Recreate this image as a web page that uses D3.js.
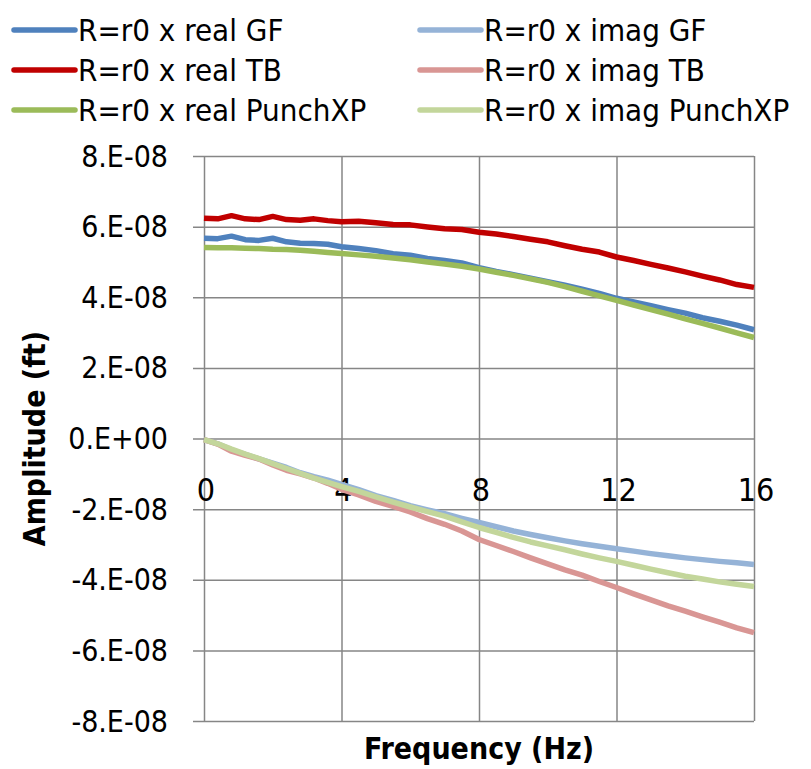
<!DOCTYPE html>
<html>
<head>
<meta charset="utf-8">
<script src="https://cdn.jsdelivr.net/npm/d3@7"></script>
<style>
  body { margin: 0; background: #fff; }
  svg text { font-family: "DejaVu Sans Condensed", "Liberation Sans Narrow", sans-serif; fill: #000; }
</style>
</head>
<body>
<div id="chart"></div>
<script>
// ------------------------------------------------------
// DATA (amplitudes in units of 1e-8 ft)

const freq = [0, 0.4, 0.8, 1.2, 1.6, 2, 2.4, 2.8, 3.2, 3.6, 4, 4.5, 5, 5.5, 6, 6.5, 7, 7.5, 8, 8.5,
  9, 9.5, 10, 10.5, 11, 11.5, 12, 12.5, 13, 13.5, 14, 14.5, 15, 15.5, 16]

const realGF = [5.67, 5.66, 5.73, 5.63, 5.61, 5.67, 5.57, 5.53, 5.52, 5.50, 5.43, 5.38, 5.32, 5.23, 5.19, 5.10, 5.04, 4.97, 4.84, 4.73,
  4.64, 4.54, 4.44, 4.34, 4.23, 4.11, 3.97, 3.87, 3.76, 3.65, 3.55, 3.42, 3.32, 3.21, 3.08]
const imagGF = [-0.03, -0.15, -0.32, -0.45, -0.58, -0.70, -0.82, -0.97, -1.08, -1.18, -1.30, -1.45, -1.62, -1.75, -1.90, -2.02, -2.13, -2.26, -2.38, -2.50,
  -2.62, -2.72, -2.81, -2.90, -2.98, -3.05, -3.12, -3.19, -3.26, -3.32, -3.38, -3.43, -3.48, -3.52, -3.57]
const realTB = [6.24, 6.22, 6.31, 6.22, 6.20, 6.29, 6.20, 6.18, 6.22, 6.17, 6.14, 6.15, 6.11, 6.06, 6.05, 5.99, 5.94, 5.92, 5.84, 5.79,
  5.72, 5.64, 5.57, 5.46, 5.36, 5.28, 5.14, 5.04, 4.93, 4.83, 4.72, 4.60, 4.49, 4.36, 4.28]
const imagTB = [-0.03, -0.16, -0.36, -0.48, -0.58, -0.75, -0.90, -1.00, -1.12, -1.27, -1.44, -1.60, -1.78, -1.92, -2.08, -2.27, -2.43, -2.62, -2.86, -3.03,
  -3.20, -3.38, -3.55, -3.72, -3.87, -4.05, -4.22, -4.40, -4.57, -4.74, -4.89, -5.05, -5.20, -5.36, -5.50]
const realPXP = [5.41, 5.40, 5.40, 5.39, 5.38, 5.36, 5.35, 5.33, 5.30, 5.27, 5.24, 5.20, 5.16, 5.11, 5.06, 5.00, 4.94, 4.88, 4.80, 4.71,
  4.62, 4.52, 4.42, 4.30, 4.17, 4.04, 3.91, 3.78, 3.65, 3.52, 3.39, 3.26, 3.13, 2.99, 2.86]
const imagPXP = [-0.03, -0.15, -0.30, -0.44, -0.57, -0.71, -0.85, -0.99, -1.12, -1.24, -1.36, -1.50, -1.65, -1.80, -1.94, -2.07, -2.20, -2.36, -2.52, -2.66,
  -2.80, -2.93, -3.04, -3.15, -3.27, -3.38, -3.48, -3.59, -3.70, -3.80, -3.90, -3.98, -4.06, -4.13, -4.19]

const seriesNames = ['R=r0 x real GF', 'R=r0 x imag GF', 'R=r0 x real TB', 'R=r0 x imag TB',
  'R=r0 x real PunchXP', 'R=r0 x imag PunchXP']
const seriesValues = [realGF, imagGF, realTB, imagTB, realPXP, imagPXP]
const seriesColors = ['#4f81bd', '#95b3d7', '#c00000', '#d99694', '#9bbb59', '#c3d69b']

const yTicks = [8e-8, 6e-8, 4e-8, 2e-8, 0, -2e-8, -4e-8, -6e-8, -8e-8]
const yTickLabels = ['8.E-08', '6.E-08', '4.E-08', '2.E-08', '0.E+00', '-2.E-08', '-4.E-08', '-6.E-08', '-8.E-08']
const xTicks = [0, 4, 8, 12, 16]

// ------------------------------------------------------
// SETUP

const width = 811
const height = 769
const margin = {top: 156, right: 57, bottom: 48, left: 204}

const svg = d3.select('#chart').append('svg')
  .attr('width', width)
  .attr('height', height)

const x = d3.scaleLinear().domain([0, 16]).range([margin.left, width - margin.right])
const y = d3.scaleLinear().domain([-8e-8, 8e-8]).range([height - margin.bottom, margin.top])

const gridColor = '#868686'

// ------------------------------------------------------
// GRID + AXES

// horizontal gridlines with their little ticks on the left
svg.append('g')
  .attr('transform', `translate(${margin.left},0)`)
  .call(d3.axisLeft(y).tickValues(yTicks).tickSize(-(width - margin.right - margin.left)).tickFormat(''))
  .call(g => g.select('.domain').remove())
  .call(g => g.selectAll('.tick line').attr('stroke', gridColor).attr('stroke-width', 1.5).attr('x1', -11))

// vertical gridlines
svg.append('g')
  .attr('transform', `translate(0,${height - margin.bottom})`)
  .call(d3.axisBottom(x).tickValues(xTicks).tickSize(-(height - margin.bottom - margin.top)).tickFormat(''))
  .call(g => g.select('.domain').remove())
  .call(g => g.selectAll('.tick line').attr('stroke', gridColor).attr('stroke-width', 1.5))

// y tick labels
svg.append('g')
  .selectAll('text')
  .data(yTicks)
  .join('text')
  .attr('x', 168)
  .attr('y', d => y(d))
  .attr('dy', '0.35em')
  .attr('text-anchor', 'end')
  .attr('font-size', 30)
  .text((d, i) => yTickLabels[i])

// x tick labels, sitting just under the zero line
svg.append('g')
  .selectAll('text')
  .data(xTicks)
  .join('text')
  .attr('x', d => x(d) + 2)
  .attr('y', y(0) + 51)
  .attr('dy', '0.35em')
  .attr('text-anchor', 'middle')
  .attr('font-size', 32)
  .text(d => d)

// axis titles
svg.append('text')
  .attr('x', x(8))
  .attr('y', 748)
  .attr('dy', '0.35em')
  .attr('text-anchor', 'middle')
  .attr('font-size', 30)
  .attr('font-weight', 'bold')
  .text('Frequency (Hz)')

svg.append('text')
  .attr('transform', `translate(34,${y(0)}) rotate(-90)`)
  .attr('dy', '0.35em')
  .attr('text-anchor', 'middle')
  .attr('font-size', 30)
  .attr('font-weight', 'bold')
  .text('Amplitude (ft)')

// ------------------------------------------------------
// LINES

const line = d3.line()
  .x((d, i) => x(freq[i]))
  .y(d => y(d * 1e-8))

svg.append('g')
  .selectAll('path')
  .data(seriesValues)
  .join('path')
  .attr('fill', 'none')
  .attr('stroke', (d, i) => seriesColors[i])
  .attr('stroke-width', 5.5)
  .attr('stroke-linejoin', 'round')
  .attr('d', line)

// ------------------------------------------------------
// LEGEND

const legendCols = [14, 420]
const legendRows = [30, 70, 110]

const legend = svg.append('g')
  .selectAll('g')
  .data(seriesNames)
  .join('g')
  .attr('transform', (d, i) => `translate(${legendCols[i % 2]},${legendRows[Math.floor(i / 2)]})`)

legend.append('line')
  .attr('x1', 0)
  .attr('x2', 61)
  .attr('stroke', (d, i) => seriesColors[i])
  .attr('stroke-width', 5.5)
  .attr('stroke-linecap', 'round')

legend.append('text')
  .attr('x', 64)
  .attr('dy', '0.35em')
  .attr('font-size', 31)
  .text(d => d)
</script>
</body>
</html>
